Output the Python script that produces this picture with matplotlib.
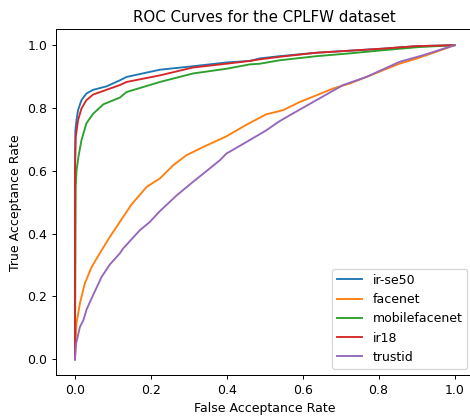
import matplotlib
matplotlib.use('Agg')
import matplotlib.pyplot as plt

# ROC points (FAR, TAR)
irse50_far = [0.0, 0.0, 0.001, 0.004, 0.008, 0.017, 0.030, 0.048, 0.083, 0.118, 0.136,
              0.224, 0.311, 0.399, 0.461, 0.487, 0.539, 0.636, 0.811, 0.899, 1.0]
irse50_tar = [0.0, 0.60, 0.729, 0.761, 0.793, 0.825, 0.846, 0.858, 0.869, 0.888, 0.899,
              0.922, 0.933, 0.945, 0.950, 0.958, 0.965, 0.976, 0.989, 0.997, 1.0]

facenet_far = [0.0, 0.001, 0.004, 0.013, 0.026, 0.044, 0.065, 0.092, 0.118, 0.149, 0.189,
               0.224, 0.259, 0.294, 0.338, 0.399, 0.452, 0.504, 0.548, 0.592, 0.680,
               0.724, 0.768, 0.811, 0.855, 0.899, 0.952, 1.0]
facenet_tar = [0.0, 0.039, 0.114, 0.178, 0.242, 0.294, 0.337, 0.390, 0.437, 0.493, 0.549,
               0.576, 0.618, 0.650, 0.676, 0.710, 0.747, 0.780, 0.793, 0.819, 0.862,
               0.878, 0.899, 0.920, 0.941, 0.957, 0.979, 1.0]

mobile_far = [0.0, 0.002, 0.004, 0.009, 0.017, 0.030, 0.048, 0.075, 0.118, 0.136, 0.224,
              0.311, 0.399, 0.461, 0.487, 0.539, 0.636, 0.724, 0.811, 0.906, 1.0]
mobile_tar = [0.0, 0.55, 0.60, 0.644, 0.697, 0.751, 0.782, 0.812, 0.833, 0.851, 0.883,
              0.910, 0.925, 0.939, 0.941, 0.952, 0.965, 0.974, 0.984, 0.994, 1.0]

ir18_far = [0.0, 0.0, 0.002, 0.008, 0.017, 0.030, 0.048, 0.083, 0.118, 0.136, 0.224,
            0.311, 0.399, 0.461, 0.487, 0.539, 0.636, 0.811, 0.899, 1.0]
ir18_tar = [0.0, 0.60, 0.708, 0.761, 0.798, 0.825, 0.843, 0.858, 0.873, 0.883, 0.904,
            0.929, 0.941, 0.950, 0.955, 0.963, 0.976, 0.989, 0.997, 1.0]

trustid_far = [0.0, 0.003, 0.013, 0.022, 0.031, 0.048, 0.070, 0.092, 0.118, 0.127, 0.171,
               0.197, 0.224, 0.268, 0.311, 0.338, 0.382, 0.399, 0.452, 0.504, 0.539,
               0.566, 0.636, 0.706, 0.768, 0.855, 0.917, 1.0]
trustid_tar = [0.0, 0.05, 0.103, 0.124, 0.160, 0.205, 0.262, 0.302, 0.337, 0.353, 0.411,
               0.437, 0.472, 0.522, 0.565, 0.591, 0.634, 0.655, 0.692, 0.729, 0.758,
               0.777, 0.825, 0.873, 0.899, 0.947, 0.968, 1.0]

names = ['ir-se50', 'facenet', 'mobilefacenet', 'ir18', 'trustid']
fars = [irse50_far, facenet_far, mobile_far, ir18_far, trustid_far]
tars = [irse50_tar, facenet_tar, mobile_tar, ir18_tar, trustid_tar]

dpi = 90
fig = plt.figure(figsize=(470 / dpi, 417 / dpi), dpi=dpi)
ax = fig.add_axes([56 / 470, 1 - 375 / 417, (473.5 - 56) / 470, (375 - 29.5) / 417])

for name, far, tar in zip(names, fars, tars):
    ax.plot(far, tar, label=name)

ax.set_title('ROC Curves for the CPLFW dataset')
ax.set_xlabel('False Acceptance Rate')
ax.set_ylabel('True Acceptance Rate')
ax.legend(loc='lower right')

fig.savefig('out.png', dpi=dpi)
